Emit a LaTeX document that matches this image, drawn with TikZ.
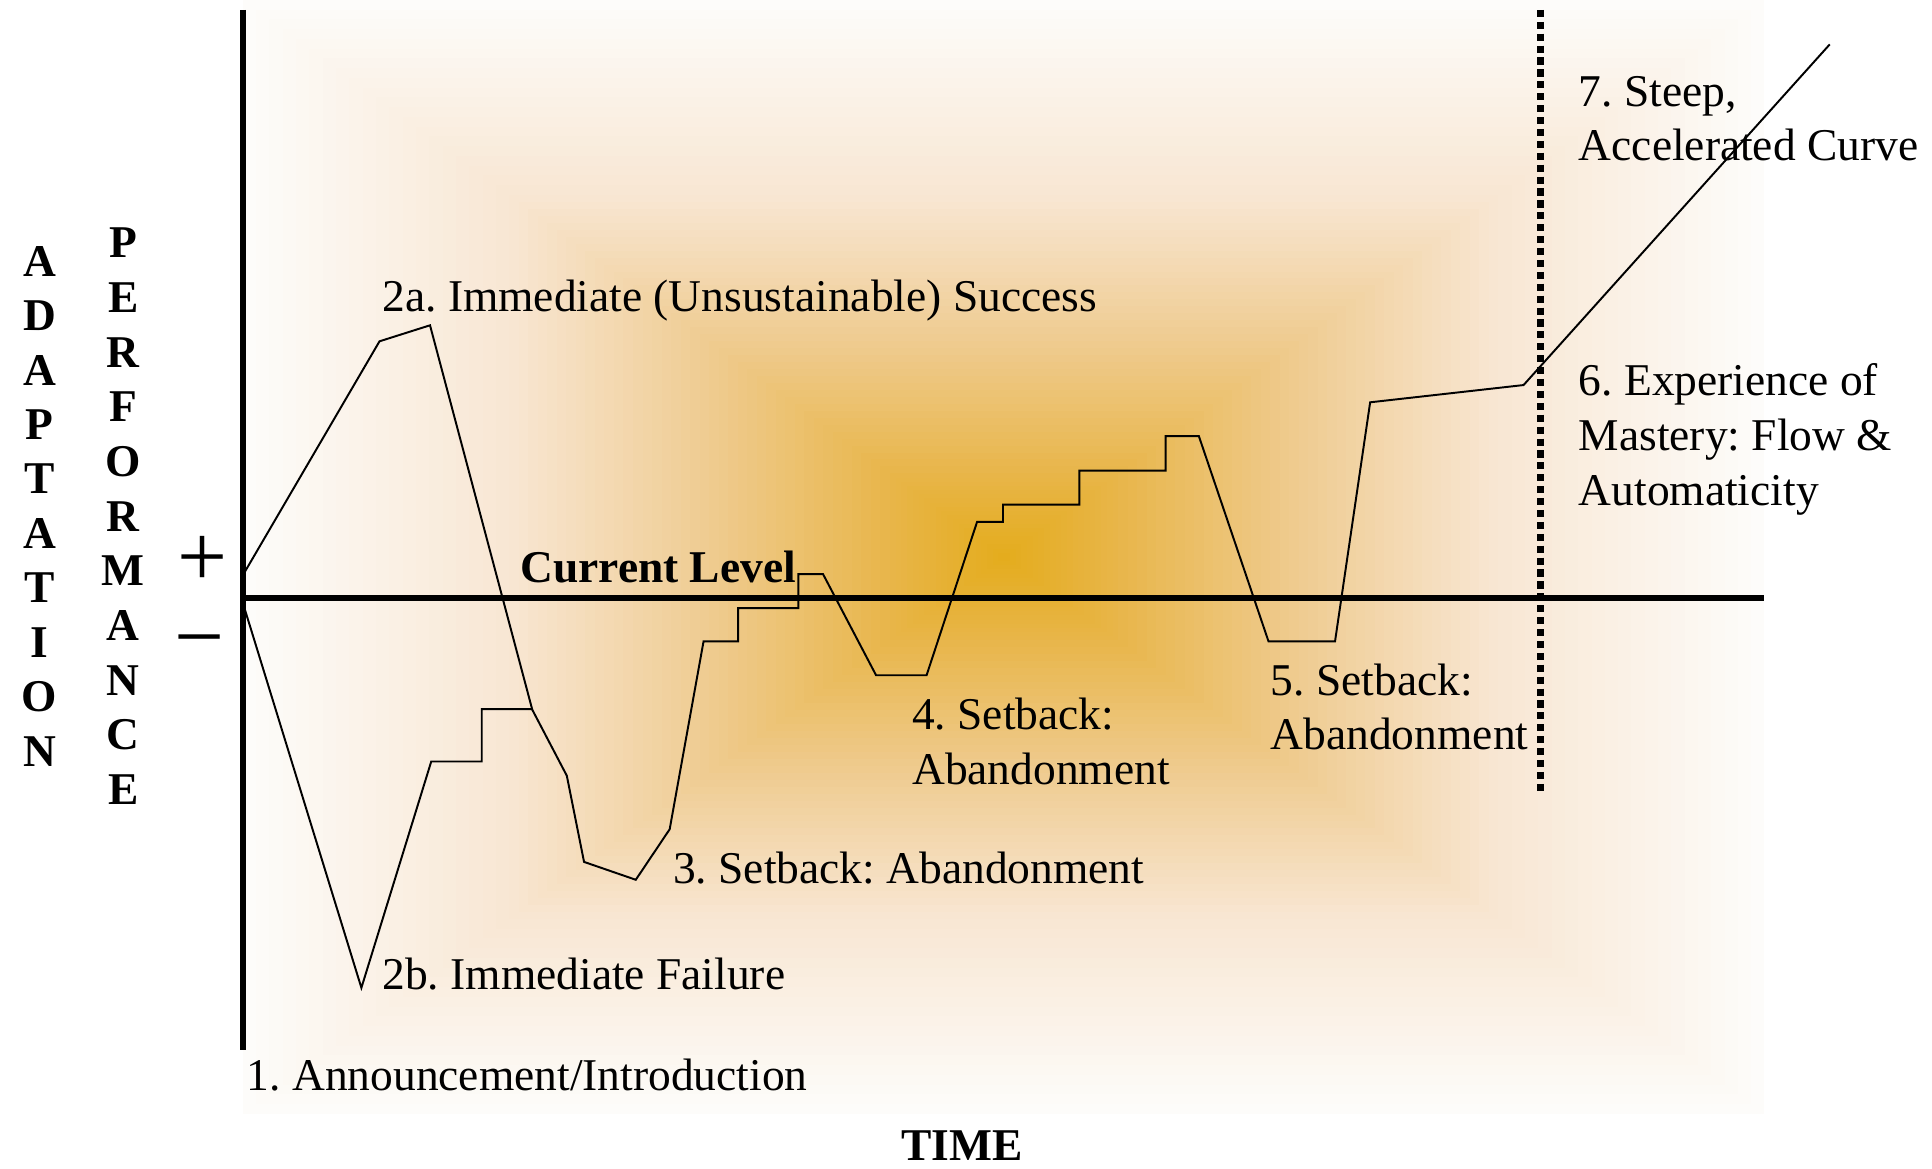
\documentclass[tikz,border=0pt]{standalone}
\usepackage{fontspec}
\setmainfont{Liberation Serif}
\usetikzlibrary{calc}
\frenchspacing

% gradient stops, from the rim to the centre
\definecolor{bgA}{HTML}{FDFCFA}
\definecolor{bgB}{HTML}{F8E6D2}
\definecolor{bgC}{HTML}{EFCC92}
\definecolor{bgD}{HTML}{E8B548}
\definecolor{bgE}{HTML}{E4AC1C}

\newcommand{\lblfont}{\fontsize{21}{25.3}\selectfont}

\begin{document}
\begin{tikzpicture}[x=0.02cm,y=-0.02cm,
    lbl/.style={font=\lblfont, inner sep=0pt, anchor=base west, align=left},
    vlet/.style={font=\lblfont\bfseries, inner sep=0pt},
    sgn/.style={font=\fontsize{41}{41}\selectfont, inner sep=0pt, anchor=base},
    axisline/.style={line width=2.8pt},
    curve/.style={line width=0.9pt, line join=miter},
    dotline/.style={line width=3.2pt, dash pattern=on 3.3pt off 2.2pt}]

  \useasboundingbox (0,0) rectangle (1568,948);

  % -------- BACKGROUND --------
  \coordinate (gTL) at (197,0);
  \coordinate (gBR) at (1432,904);
  \coordinate (gC)  at (815,452);

  % nested rectangles, rim to centre
  \foreach \ca/\cb/\ta/\tb in {bgA/bgB/0/0.35, bgB/bgC/0.35/0.6,
                               bgC/bgD/0.6/0.85, bgD/bgE/0.85/1} {
      \foreach \k in {0,...,19} {
          \pgfmathsetmacro{\gpos}{\ta+(\tb-\ta)*\k/20}
          \pgfmathtruncatemacro{\mix}{5*\k}
          \fill[\cb!\mix!\ca] ($(gTL)!\gpos!(gC)$) rectangle ($(gBR)!\gpos!(gC)$);
      }
  }

  % -------- AXES --------
  \coordinate (yTop) at (197,8);
  \coordinate (yBot) at (197,852);
  \coordinate (O)    at (197,485);
  \coordinate (xEnd) at (1432,485);
  \draw[axisline] (yTop) -- (yBot);
  \draw[axisline] (O) -- (xEnd);

  % dotted divider
  \coordinate (dTop) at (1250,8);
  \coordinate (dBot) at (1250,645);
  \draw[dotline] (dTop) -- (dBot);

  % -------- CURVES --------
  % 2a: success, drop, steps, setbacks, mastery
  \draw[curve] (197,467) -- (308,277) -- (349,264) -- (432,576)
      -- (460,629.5) -- (474,699.5) -- (516,714) -- (543.5,673)
      -- (571,520.5) -- (599,520.5) -- (599,493.5) -- (648,493.5)
      -- (648,466) -- (668,466) -- (711,548) -- (752,548)
      -- (793,423.5) -- (814,423.5) -- (814,409.5) -- (876,409.5)
      -- (876,382) -- (946,382) -- (946,354) -- (973,354)
      -- (1029.5,520.5) -- (1083.5,520.5) -- (1112,326.5)
      -- (1236.5,312.5) -- (1485,36);

  % 2b: failure, then steps up to 2a
  \draw[curve] (197,489) -- (293.3,801.7) -- (350,618) -- (391,618)
      -- (391,575.5) -- (432,575.5);

  % -------- LABELS --------
  % (multi-line labels sit on their last baseline)
  \node[lbl] (l2a) at (310,253) {2a. Immediate (Unsustainable) Success};
  \node[lbl,font=\lblfont\bfseries] (cur) at (422,473) {Current Level};
  \node[lbl] (l2b) at (310,803) {2b. Immediate Failure};
  \node[lbl] (l3) at (546,717) {3. Setback: Abandonment};
  \node[lbl] (l4) at (740,636.6) {4. Setback:\\Abandonment};
  \node[lbl] (l5) at (1031,608.6) {5. Setback:\\Abandonment};
  \node[lbl] (l6) at (1281,410.2) {6. Experience of\\Mastery: Flow \&\\Automaticity};
  \node[lbl] (l7) at (1281,130.6) {7. Steep,\\Accelerated Curve};
  \node[lbl] (l1) at (200,885) {1. Announcement/Introduction};
  \node[lbl,font=\lblfont\bfseries] (time) at (731,942) {TIME};

  % plus / minus
  \node[sgn] (plus)  at (164,476) {+};
  \node[sgn] (minus) at (162,541) {−};

  % vertical axis words
  \foreach \ch [count=\i from 0] in {A,D,A,P,T,A,T,I,O,N}
      \node[vlet] (ad\i) at (32,212+44.2*\i) {\ch};
  \foreach \ch [count=\i from 0] in {P,E,R,F,O,R,M,A,N,C,E}
      \node[vlet] (pf\i) at (100,197+44.4*\i) {\ch};

\end{tikzpicture}
\end{document}
